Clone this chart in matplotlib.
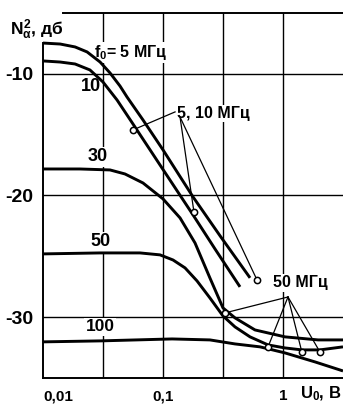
import matplotlib
matplotlib.use('Agg')
import matplotlib.pyplot as plt

plt.rcParams['font.family'] = ['Liberation Sans', 'DejaVu Sans']
plt.rcParams['font.weight'] = 'bold'
plt.rcParams['mathtext.fontset'] = 'custom'
plt.rcParams['mathtext.rm'] = 'Liberation Sans:bold'
plt.rcParams['mathtext.it'] = 'Liberation Sans:bold'
plt.rcParams['mathtext.bf'] = 'Liberation Sans:bold'

# curves: U0 (V) and N^2 (dB)
u_5 = [0.0100, 0.0139, 0.0185, 0.0233, 0.0299, 0.0362, 0.0438, 0.0501, 0.0681, 0.100, 0.178, 0.299, 0.531]
n_5 = [-7.47, -7.55, -7.79, -8.20, -9.03, -9.93, -11.00, -11.90, -13.79, -16.25, -20.12, -23.32, -26.77]

u_10 = [0.0100, 0.0139, 0.0185, 0.0246, 0.0316, 0.0414, 0.0562, 0.0944, 0.178, 0.271, 0.438]
n_10 = [-8.94, -9.03, -9.19, -9.68, -10.67, -12.15, -14.12, -17.49, -21.60, -24.39, -27.51]

u_30 = [0.0100, 0.0203, 0.0362, 0.0482, 0.0681, 0.100, 0.1386, 0.1848, 0.246, 0.316, 0.398, 0.584, 1.04, 1.96, 3.16]
n_30 = [-17.82, -17.82, -17.90, -18.23, -18.97, -20.28, -21.84, -23.90, -26.78, -29.24, -30.06, -31.05, -31.62, -31.87, -31.87]

u_50 = [0.0100, 0.0299, 0.0643, 0.0944, 0.1212, 0.1526, 0.192, 0.246, 0.316, 0.398, 0.531, 0.750, 1.04, 1.435, 2.03, 3.16]
n_50 = [-24.80, -24.72, -24.72, -24.88, -25.30, -25.95, -27.02, -28.42, -29.90, -30.80, -31.62, -32.28, -32.53, -32.69, -32.69, -32.44]

u_100 = [0.0100, 0.0299, 0.119, 0.246, 0.398, 0.643, 1.04, 1.85, 3.16]
n_100 = [-32.03, -31.95, -31.79, -31.87, -32.20, -32.44, -32.94, -33.68, -34.42]

curves = [(u_5, n_5), (u_10, n_10), (u_30, n_30), (u_50, n_50), (u_100, n_100)]

# measured points marked with small circles
pts_510_u = [0.0562, 0.181, 0.607]
pts_510_n = [-14.61, -21.35, -26.94]
pts_50_u = [0.328, 0.75, 1.435, 2.03]
pts_50_n = [-29.65, -32.44, -32.86, -32.86]

# where the pointer lines leave the labels
from_510_left = (0.126, -13.13)
from_510 = (0.1386, -13.55)
from_50 = (1.10, -28.34)

fig = plt.figure(figsize=(3.43, 4.11), dpi=100)
ax = fig.add_axes([43 / 343, 33 / 411, 300 / 343, 365 / 411])
ax.set_xscale('log')
ax.set_xlim(0.01, 3.16)
ax.set_ylim(-35, -5)

for s in ['top', 'right']:
    ax.spines[s].set_visible(False)
ax.spines['left'].set_bounds(-35, -7.47)
ax.spines['left'].set_linewidth(1.4)
ax.spines['bottom'].set_linewidth(1.4)

# grid
for xv in [0.0316, 0.1, 0.316, 1.0]:
    ax.axvline(xv, color='k', lw=1.0, zorder=1)
for yv in [-10, -20, -30]:
    ax.axhline(yv, color='k', lw=1.0, zorder=1)
ax.axhline(-5, xmin=20 / 300, color='k', lw=1.4, zorder=1, clip_on=False)

ax.set_xticks([0.01, 0.1, 1])
ax.set_xticklabels(['0,01', '0,1', '1'], fontsize=11)
ax.xaxis.set_minor_locator(matplotlib.ticker.NullLocator())
ax.set_yticks([-30, -20, -10])
ax.set_yticklabels(['-30', '-20', '-10'], fontsize=14)
ax.tick_params(axis='x', length=0, pad=8)
ax.tick_params(axis='y', length=0, pad=7)
ax.get_xticklabels()[0].set_ha('left')

for u, n in curves:
    ax.plot(u, n, color='k', lw=2.1, zorder=3, solid_capstyle='butt')

# pointer lines
ax.plot([from_510_left[0], pts_510_u[0]], [from_510_left[1], pts_510_n[0]], color='k', lw=0.9, zorder=3)
for u, n in zip(pts_510_u[1:], pts_510_n[1:]):
    ax.plot([from_510[0], u], [from_510[1], n], color='k', lw=0.9, zorder=3)
for u, n in zip(pts_50_u, pts_50_n):
    ax.plot([from_50[0], u], [from_50[1], n], color='k', lw=0.9, zorder=3)
ax.plot(pts_510_u, pts_510_n, 'o', ms=4.5, mfc='white', mec='k', mew=1.1, zorder=4)
ax.plot(pts_50_u, pts_50_n, 'o', ms=4.5, mfc='white', mec='k', mew=1.1, zorder=4)

box = dict(facecolor='white', edgecolor='none', pad=1)
ax.text(0.0266, -8.62, r'$f_0$= 5 МГц', fontsize=11.5, ha='left', va='baseline', bbox=box, zorder=2)
ax.text(0.0251, -11.08, '10', fontsize=13, ha='center', va='center', bbox=box, zorder=2)
ax.text(0.0287, -16.83, '30', fontsize=13, ha='center', va='center', bbox=box, zorder=2)
ax.text(0.0299, -23.82, '50', fontsize=13, ha='center', va='center', bbox=box, zorder=2)
ax.text(0.0299, -30.80, '100', fontsize=12.5, ha='center', va='center', bbox=box, zorder=2)
ax.text(0.131, -13.26, '5, 10 МГц', fontsize=11.5, ha='left', va='center', bbox=box, zorder=2)
ax.text(0.825, -27.19, '50 МГц', fontsize=11.5, ha='left', va='center', bbox=box, zorder=2)

fig.text(10 / 343, 1 - 35 / 411, r'$N_\alpha^2$, дб', fontsize=12.5, ha='left', va='baseline')
fig.text(300 / 343, 1 - 398 / 411, r'$U_0$, В', fontsize=12, ha='left', va='baseline')

fig.savefig('out.png', dpi=100)
